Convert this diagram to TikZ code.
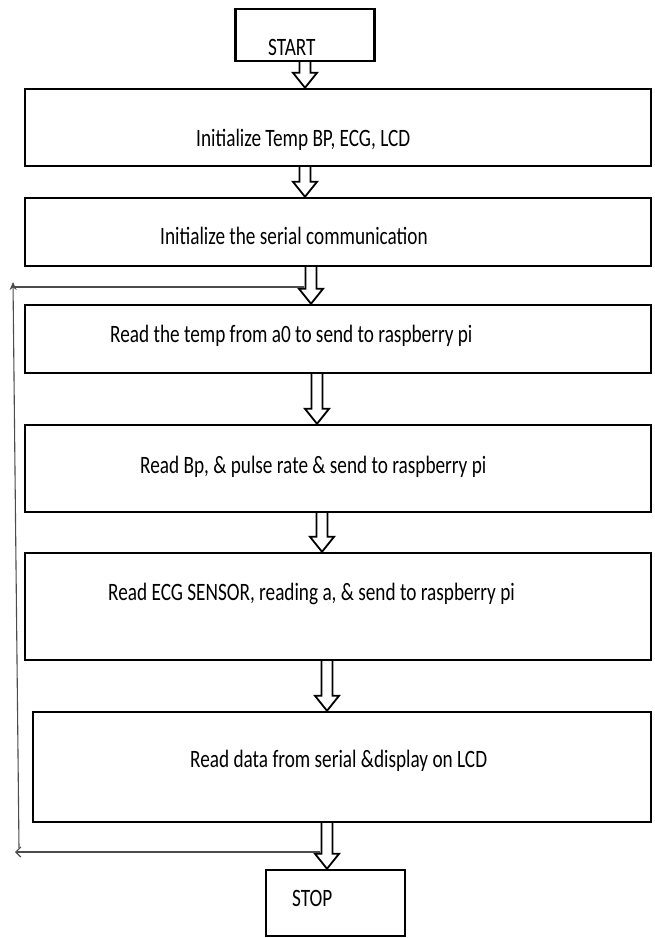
\documentclass[tikz,border=0pt]{standalone}
\usepackage{fontspec}
\setmainfont{Carlito}
\usetikzlibrary{calc, arrows.meta}

\newcommand{\squeeze}[1]{\scalebox{0.77}[1]{#1}}
% hollow block arrow: x position, upper node, lower node
\newcommand{\hollowarrow}[3]{%
  \draw[harrow] ($(#2.south -| #1,0)+(-5.5,0)$) -- ($(#3.north -| #1,0)+(-5.5,-15)$)
    -- ++(-6.5,0) -- (#3.north -| #1,0) -- ($(#3.north -| #1,0)+(12,-15)$)
    -- ++(-6.5,0) -- ($(#2.south -| #1,0)+(5.5,0)$);}

\tikzset{
  box/.style={draw, line width=2.4pt, minimum width=626pt, inner sep=0pt},
  endbox/.style={draw, line width=2.4pt, minimum width=139pt, inner sep=0pt},
  harrow/.style={line width=1.8pt, line join=miter},
  feedback/.style={line width=1.1pt, draw=black!70},
  txt/.style={anchor=base west, inner sep=0pt, text=black, font=\fontsize{25}{28}\selectfont}
}

\begin{document}
\begin{tikzpicture}[x=1pt, y=-1pt]
\useasboundingbox (0,0) rectangle (654,938);

% Boxes
\node[endbox, minimum height=52pt] (start) at (305,35) {};
\node[box, minimum height=77pt] (b1) at (338,127.5) {};
\node[box, minimum height=68pt] (b2) at (338,232) {};
\node[box, minimum height=68pt] (b3) at (338,339) {};
\node[box, minimum height=87pt] (b4) at (338,468.5) {};
\node[box, minimum height=107pt] (b5) at (338,606.5) {};
\node[box, minimum width=618pt, minimum height=110pt] (b6) at (342,767) {};
\node[endbox, minimum height=66pt] (stop) at (335.5,903) {};

% Texts
\node[txt] (tstart) at (268,55) {\squeeze{START}};
\node[txt] (t1) at (196,146) {\squeeze{Initialize Temp BP, ECG, LCD}};
\node[txt] (t2) at (160,244) {\squeeze{Initialize the serial communication}};
\node[txt] (t3) at (110,342) {\squeeze{Read the temp from a0 to send to raspberry pi}};
\node[txt] (t4) at (140,473) {\squeeze{Read Bp, \& pulse rate \& send to raspberry pi}};
\node[txt] (t5) at (108,600) {\squeeze{Read ECG SENSOR, reading a, \& send to raspberry pi}};
\node[txt] (t6) at (190,767) {\squeeze{Read data from serial \&display on LCD}};
\node[txt] (tstop) at (292,906) {\squeeze{STOP}};

% Arrows
\hollowarrow{305}{start}{b1}
\hollowarrow{305}{b1}{b2}
\hollowarrow{311}{b2}{b3}
\hollowarrow{317}{b3}{b4}
\hollowarrow{322}{b4}{b5}
\hollowarrow{327}{b5}{b6}
\hollowarrow{327}{b6}{stop}

% Loop back
\coordinate (fbS) at (320,852);
\coordinate (fbB) at (15,852);
\coordinate (fbV) at (19,848);
\coordinate (fbT) at (13,282);
\coordinate (fbL) at (13,287);
\coordinate (fbE) at (304,287);
\draw[feedback, -{Straight Barb[length=5pt,width=10pt]}] (fbS) -- (fbB);
\draw[feedback, -{Stealth[length=8pt,width=7pt]}] (fbV) -- (fbT);
\draw[feedback] (fbL) -- (fbE);
\end{tikzpicture}
\end{document}
